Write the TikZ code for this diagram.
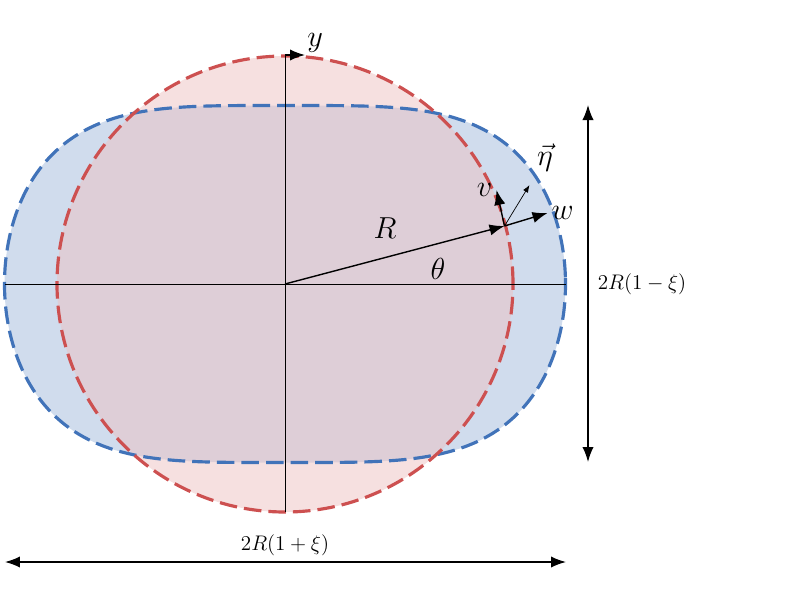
\documentclass[tikz,border=0pt]{standalone}
\usepackage{amsmath}
\usepackage{amssymb}
\usetikzlibrary{arrows.meta}
\begin{document}
\begin{tikzpicture}
\definecolor{redline}{RGB}{205,80,80}
\definecolor{blueline}{RGB}{65,115,185}
\tikzset{curve/.style={dashed, dash pattern=on 10pt off 4pt, line width=1.8pt},
         arr/.style={-{Latex[length=3mm]}, thick}}
\useasboundingbox (-5.7,5.68) rectangle (10.3,-6.32);
% filled shapes
\fill[blueline!25] plot[domain=0:360, samples=240, smooth cycle]
  ({5.61*cos(\x)}, {3.57*sign(sin(\x))*sqrt(1-cos(\x)^4)});
\fill[redline!35, fill opacity=0.5] (0,0) circle (4.56);
\draw[curve, blueline] plot[domain=0:360, samples=240, smooth cycle]
  ({5.61*cos(\x)}, {3.57*sign(sin(\x))*sqrt(1-cos(\x)^4)});
\draw[curve, redline] (0,0) circle (4.56);

\draw (0,0) coordinate (o) ;
\draw (-5.6,0) coordinate (xl) ;
\draw (5.62,0) coordinate (xr) ;
\draw (0,4.58) coordinate (yt) ;
\draw (0,-4.56) coordinate (yb) ;
\draw (0.4,4.58) coordinate (ya) ;
\draw (4.39,1.16) coordinate (p) ;
\draw (4.23,1.88) coordinate (v) ;
\draw (5.25,1.42) coordinate (w) ;
\draw (4.89,1.98) coordinate (eta) ;

\draw (xl) -- (xr) (yt) -- (yb) ;
\draw[arr] (yt) -- (ya) node[anchor=south west, inner sep=1pt] {\LARGE $y$} ;
\draw[arr] (o) -- (p) ;
\draw (2.0,1.12) node (r) {\LARGE $R$} ;
\draw (3.06,0.3) node (th) {\LARGE $\theta$} ;
\draw[arr] (p) -- (v) node[left, inner sep=2pt] (vl) {\LARGE $v$} ;
\draw[arr] (p) -- (w) node[right, inner sep=2pt] (wl) {\LARGE $w$} ;
\draw[-{Latex[length=1.5mm]}] (p) -- (eta) ;
\draw (5.2,2.52) node (etal) {\LARGE $\vec{\eta}$} ;

\draw (6.06,3.58) coordinate (dt) ;
\draw (6.06,-3.56) coordinate (db) ;
\draw[{Latex[length=3mm]}-{Latex[length=3mm]}, thick] (dt) -- (db) ;
\draw (7.14,0) node (dv) {\large $2R(1-\xi)$} ;
\draw (-5.6,-5.56) coordinate (hl) ;
\draw (5.62,-5.56) coordinate (hr) ;
\draw[{Latex[length=3mm]}-{Latex[length=3mm]}, thick] (hl) -- (hr) ;
\draw (0,-5.22) node (dh) {\large $2R(1+\xi)$} ;
\end{tikzpicture}
\end{document}
